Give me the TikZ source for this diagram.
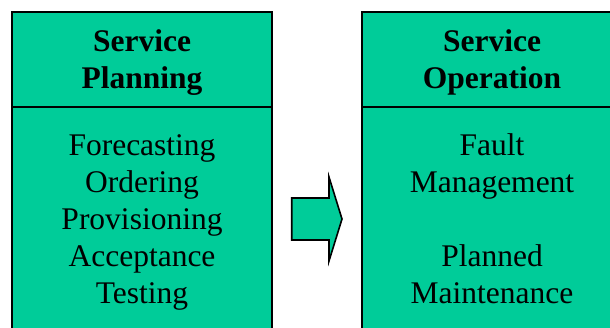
\documentclass[tikz,border=0pt]{standalone}
\usepackage{fontspec}
\setmainfont{Liberation Serif}
\definecolor{teal1}{RGB}{0,204,153}
\tikzset{
  panel/.style={draw=black, line width=2pt, fill=teal1, rectangle, minimum width=260pt, minimum height=400pt, inner sep=0pt},
  title/.style={align=center, font=\fontsize{31.5}{36.5}\selectfont\bfseries, inner sep=0pt, anchor=base},
  body/.style={align=center, font=\fontsize{31.5}{36.8}\selectfont, inner sep=0pt, anchor=base},
  bigarrow/.style={draw=black, line width=1.6pt, fill=teal1, line join=miter}
}
\begin{document}
\begin{tikzpicture}[x=1pt,y=-1pt]
\useasboundingbox (0,0) rectangle (610,327);
\clip (0,0) rectangle (610,327);
\node[panel, anchor=north] (lbox) at (142,10.5) {};
\node[panel, anchor=north] (rbox) at (492,10.5) {};
\coordinate (ldl) at (12,107);
\coordinate (ldr) at (272,107);
\coordinate (rdl) at (362,107);
\coordinate (rdr) at (622,107);
\draw[line width=2pt] (ldl) -- (ldr);
\draw[line width=2pt] (rdl) -- (rdr);
\node[title] (lt) at (142,88) {Service\\Planning};
\node[title] (rt) at (492,88) {Service\\Operation};
\node[body] (lb) at (142,303) {Forecasting\\Ordering\\Provisioning\\Acceptance\\Testing};
\node[body] (rb) at (492,303) {Fault\\Management\\[36.8pt]Planned\\Maintenance};
\draw[bigarrow] (291.7,198) -- (329,198) -- (329,177) -- (342,219) -- (329,261) -- (329,240) -- (291.7,240) -- cycle;
\end{tikzpicture}
\end{document}
